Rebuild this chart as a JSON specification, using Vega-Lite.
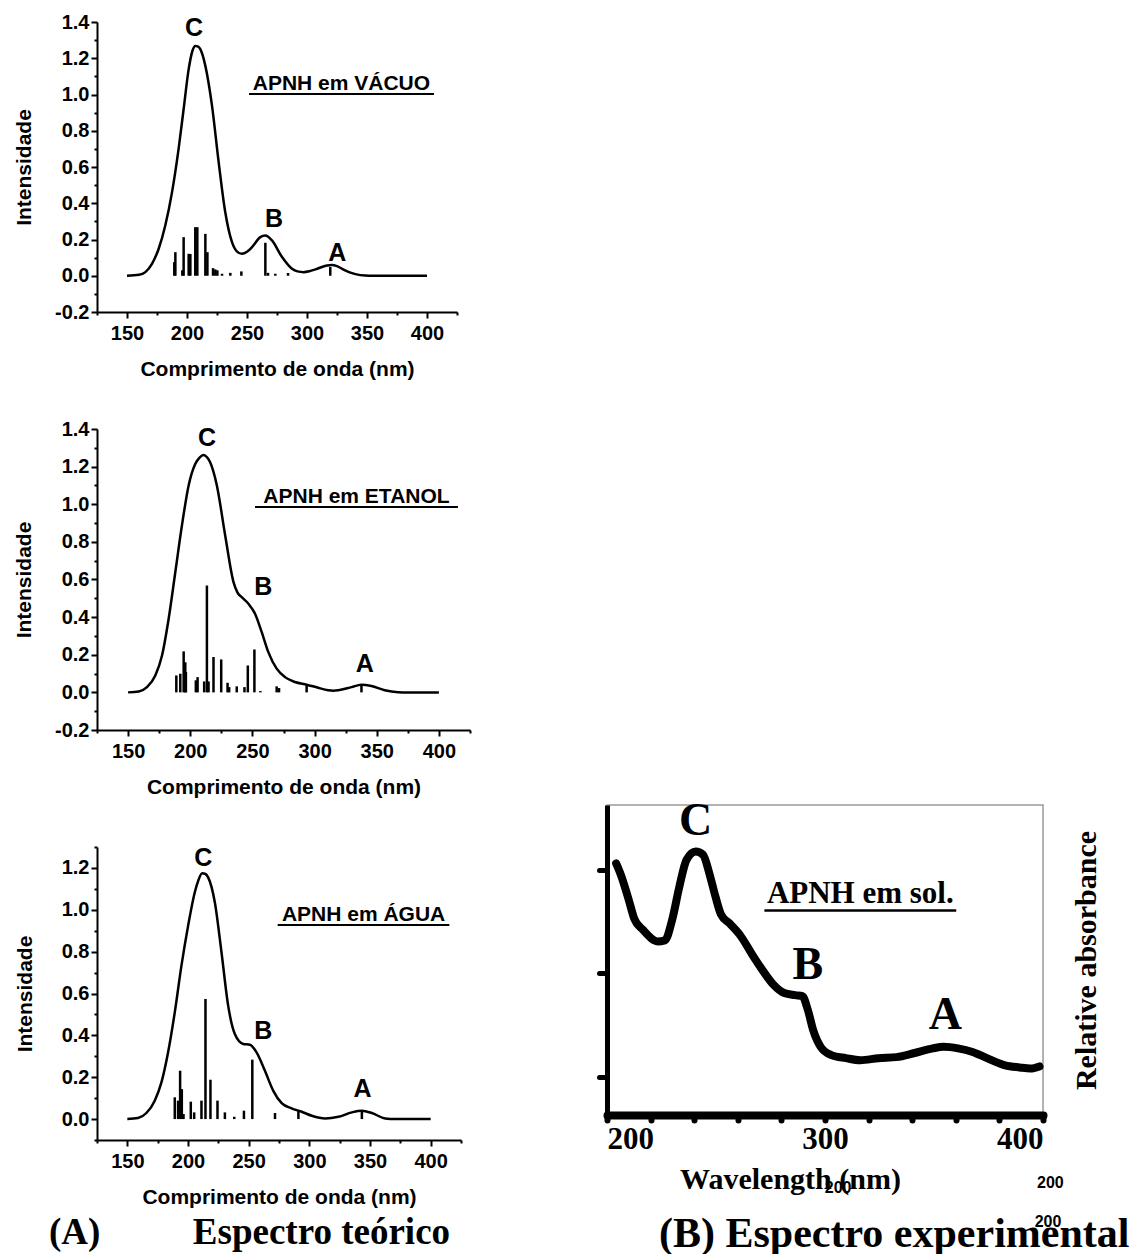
{
  "$schema": "https://vega.github.io/schema/vega-lite/v6.json",
  "background": "white",
  "padding": {"left": 13, "top": 12, "right": 0, "bottom": 0},
  "config": {
    "view": {"stroke": null},
    "font": "Liberation Sans",
    "axis": {
      "grid": false, "labelOverlap": false,
      "domainColor": "black", "domainWidth": 2,
      "tickColor": "black", "tickWidth": 2,
      "labelColor": "black", "labelFont": "Liberation Sans", "labelFontWeight": "bold", "labelFontSize": 20,
      "titleColor": "black", "titleFont": "Liberation Sans", "titleFontWeight": "bold", "titleFontSize": 21
    },
    "axisX": {"labelPadding": 5, "titlePadding": 15},
    "axisY": {"labelPadding": 2, "titlePadding": 20}
  },
  "datasets": {
    "vac_curve": [
      {"nm":150,"v":0},{"nm":160,"v":0.005},{"nm":165.3,"v":0.02},{"nm":170.8,"v":0.066},{"nm":176.4,"v":0.149},{"nm":181.9,"v":0.277},{"nm":187.5,"v":0.46},{"nm":193,"v":0.7},{"nm":197.2,"v":0.92},{"nm":201.4,"v":1.14},{"nm":204.5,"v":1.24},{"nm":206.9,"v":1.268},{"nm":209,"v":1.265},{"nm":211.1,"v":1.25},{"nm":215.3,"v":1.158},{"nm":220.8,"v":0.94},{"nm":226.4,"v":0.626},{"nm":231.9,"v":0.35},{"nm":237.5,"v":0.185},{"nm":241.5,"v":0.135},{"nm":245.8,"v":0.121},{"nm":250,"v":0.132},{"nm":254.2,"v":0.158},{"nm":261.1,"v":0.213},{"nm":265.3,"v":0.222},{"nm":270.8,"v":0.195},{"nm":279.2,"v":0.103},{"nm":287.5,"v":0.0385},{"nm":292,"v":0.024},{"nm":297.2,"v":0.02},{"nm":302,"v":0.025},{"nm":307,"v":0.035},{"nm":316.7,"v":0.057},{"nm":320.8,"v":0.06},{"nm":325,"v":0.053},{"nm":329.2,"v":0.0385},{"nm":335,"v":0.02},{"nm":340.3,"v":0.009},{"nm":348.6,"v":0.001},{"nm":355,"v":0},{"nm":400,"v":0}
    ],
    "vac_sticks": [
      {"nm":189.4,"v":0.075},{"nm":190.3,"v":0.13},{"nm":196.1,"v":0.03},{"nm":197.2,"v":0.213},{"nm":201.4,"v":0.121},{"nm":202.8,"v":0.12},{"nm":206.9,"v":0.268},{"nm":208.6,"v":0.268},{"nm":215.3,"v":0.231},{"nm":217,"v":0.13},{"nm":221.7,"v":0.042},{"nm":223.6,"v":0.035},{"nm":225.3,"v":0.03},{"nm":229.2,"v":0.011},{"nm":236.1,"v":0.016},{"nm":245.3,"v":0.024},{"nm":265.3,"v":0.182},{"nm":267.5,"v":0.016},{"nm":273.6,"v":0.011},{"nm":284.2,"v":0.015},{"nm":319.4,"v":0.048}
    ],
    "vac_peaks": [{"nm":205.8,"v":1.325,"t":"C"},{"nm":272.5,"v":0.268,"t":"B"},{"nm":325.3,"v":0.084,"t":"A"}],
    "vac_title": [{"nm":328.7,"v":1.027,"t":"APNH em VÁCUO","x1":251.7,"x2":405.8,"u":1.003}],
    "eta_curve": [
      {"nm":150,"v":0},{"nm":158.6,"v":0.005},{"nm":165.2,"v":0.028},{"nm":171.9,"v":0.09},{"nm":177.3,"v":0.196},{"nm":182.6,"v":0.39},{"nm":188,"v":0.64},{"nm":193.3,"v":0.887},{"nm":198.7,"v":1.1},{"nm":204,"v":1.214},{"nm":207.5,"v":1.248},{"nm":210.7,"v":1.262},{"nm":213.5,"v":1.25},{"nm":216,"v":1.223},{"nm":221.4,"v":1.1},{"nm":228.1,"v":0.834},{"nm":234.8,"v":0.586},{"nm":238,"v":0.53},{"nm":241.4,"v":0.506},{"nm":246.8,"v":0.471},{"nm":252.1,"v":0.418},{"nm":257.5,"v":0.32},{"nm":262.8,"v":0.214},{"nm":269.5,"v":0.126},{"nm":276.2,"v":0.081},{"nm":284.2,"v":0.055},{"nm":293.6,"v":0.041},{"nm":301.6,"v":0.027},{"nm":311,"v":0.011},{"nm":315,"v":0.009},{"nm":319,"v":0.011},{"nm":329.7,"v":0.028},{"nm":337.7,"v":0.041},{"nm":345.7,"v":0.034},{"nm":356.4,"v":0.011},{"nm":367.1,"v":0.001},{"nm":375,"v":0},{"nm":400,"v":0}
    ],
    "eta_sticks": [
      {"nm":188.8,"v":0.09},{"nm":192,"v":0.099},{"nm":194.7,"v":0.218},{"nm":196,"v":0.16},{"nm":196.5,"v":0.108},{"nm":204.5,"v":0.064},{"nm":205.9,"v":0.081},{"nm":211.2,"v":0.058},{"nm":213.4,"v":0.568},{"nm":214.7,"v":0.058},{"nm":218.7,"v":0.188},{"nm":224.9,"v":0.175},{"nm":230,"v":0.051},{"nm":231.3,"v":0.028},{"nm":237.4,"v":0.032},{"nm":243.6,"v":0.028},{"nm":246.3,"v":0.143},{"nm":251.6,"v":0.228},{"nm":256.4,"v":0.007},{"nm":269.5,"v":0.032},{"nm":271.4,"v":0.023},{"nm":293.6,"v":0.037},{"nm":337.7,"v":0.034}
    ],
    "eta_peaks": [{"nm":213.4,"v":1.312,"t":"C"},{"nm":258.8,"v":0.515,"t":"B"},{"nm":340.4,"v":0.108,"t":"A"}],
    "eta_title": [{"nm":333.7,"v":1.005,"t":"APNH em ETANOL","x1":252.1,"x2":415.3,"u":0.986}],
    "agu_curve": [
      {"nm":150,"v":0},{"nm":158.8,"v":0.005},{"nm":165.7,"v":0.029},{"nm":172.6,"v":0.088},{"nm":178.1,"v":0.175},{"nm":183.6,"v":0.319},{"nm":189.1,"v":0.51},{"nm":194.6,"v":0.733},{"nm":200.1,"v":0.924},{"nm":205.6,"v":1.084},{"nm":208.5,"v":1.14},{"nm":211.7,"v":1.174},{"nm":214,"v":1.172},{"nm":216.6,"v":1.155},{"nm":222.1,"v":1.036},{"nm":227.6,"v":0.797},{"nm":233.1,"v":0.542},{"nm":238.6,"v":0.406},{"nm":245.5,"v":0.359},{"nm":251,"v":0.355},{"nm":256.5,"v":0.319},{"nm":263.4,"v":0.231},{"nm":270.3,"v":0.135},{"nm":277.2,"v":0.076},{"nm":285.4,"v":0.051},{"nm":293.7,"v":0.035},{"nm":302,"v":0.016},{"nm":313,"v":0.003},{"nm":324,"v":0.011},{"nm":335,"v":0.032},{"nm":343.3,"v":0.04},{"nm":351.5,"v":0.029},{"nm":362.5,"v":0.003},{"nm":370.8,"v":0},{"nm":400,"v":0}
    ],
    "agu_sticks": [
      {"nm":189.1,"v":0.104},{"nm":191.8,"v":0.088},{"nm":193.5,"v":0.231},{"nm":194.9,"v":0.143},{"nm":196.3,"v":0.024},{"nm":202.3,"v":0.083},{"nm":205.1,"v":0.032},{"nm":211.1,"v":0.088},{"nm":214.4,"v":0.574},{"nm":218.5,"v":0.188},{"nm":224.3,"v":0.088},{"nm":230.4,"v":0.032},{"nm":238.1,"v":0.011},{"nm":246.1,"v":0.04},{"nm":253,"v":0.284},{"nm":271.7,"v":0.029},{"nm":291,"v":0.04},{"nm":343.3,"v":0.04}
    ],
    "agu_peaks": [{"nm":212.5,"v":1.211,"t":"C"},{"nm":262,"v":0.382,"t":"B"},{"nm":343.8,"v":0.104,"t":"A"}],
    "agu_title": [{"nm":344.7,"v":0.948,"t":"APNH em ÁGUA","x1":273.9,"x2":415.4,"u":0.927}],
    "exp_curve": [
      {"nm":204.2,"v":2.435},{"nm":206.6,"v":2.31},{"nm":210,"v":2.08},{"nm":212.5,"v":1.9},{"nm":216.6,"v":1.79},{"nm":223.2,"v":1.68},{"nm":226.6,"v":1.69},{"nm":229.9,"v":1.89},{"nm":233.2,"v":2.21},{"nm":236.5,"v":2.47},{"nm":240.7,"v":2.55},{"nm":244,"v":2.52},{"nm":247.3,"v":2.31},{"nm":249.8,"v":2.11},{"nm":252.3,"v":1.94},{"nm":256.4,"v":1.85},{"nm":261.4,"v":1.73},{"nm":266.4,"v":1.56},{"nm":271.4,"v":1.4},{"nm":276.4,"v":1.26},{"nm":281.3,"v":1.18},{"nm":286.3,"v":1.16},{"nm":289.6,"v":1.15},{"nm":292.1,"v":1.02},{"nm":294.6,"v":0.82},{"nm":298,"v":0.66},{"nm":302.9,"v":0.58},{"nm":309.6,"v":0.55},{"nm":316.2,"v":0.53},{"nm":324.5,"v":0.55},{"nm":332.8,"v":0.56},{"nm":341.1,"v":0.6},{"nm":349.4,"v":0.645},{"nm":354.4,"v":0.66},{"nm":361,"v":0.645},{"nm":367.7,"v":0.61},{"nm":374.3,"v":0.55},{"nm":382.6,"v":0.48},{"nm":389.3,"v":0.46},{"nm":394.2,"v":0.45},{"nm":398.4,"v":0.47}
    ],
    "exp_peaks": [{"nm":240.7,"v":2.71,"t":"C"},{"nm":292.1,"v":1.32,"t":"B"},{"nm":355.2,"v":0.83,"t":"A"}],
    "exp_title": [{"nm":316.2,"v":2.05,"t":"APNH em sol.","x1":272.2,"x2":360.2,"u":1.98}],
    "exp_extra": [{"nm":306,"v":-0.71,"t":"200"},{"nm":403.4,"v":-0.66,"t":"200"},{"nm":402.3,"v":-1.04,"t":"200"}]
  },
  "bounds": "full",
  "spacing": 124,
  "hconcat": [
    {
      "bounds": "flush",
      "spacing": 117,
      "title": {"text": "(A)\u00a0\u00a0\u00a0\u00a0\u00a0\u00a0\u00a0\u00a0\u00a0\u00a0Espectro teórico", "orient": "bottom", "frame": "group", "anchor": "start", "baseline": "alphabetic", "offset": 37, "dx": -48, "font": "Liberation Serif", "fontSize": 37, "fontWeight": "bold", "color": "black"},
      "vconcat": [
        {
          "width": 360, "height": 290,
          "resolve": {"axis": {"x": "independent", "y": "independent"}},
          "layer": [
            {"data": {"name": "vac_curve"}, "mark": {"type": "line", "color": "black", "strokeWidth": 2.5, "interpolate": "monotone"},
             "encoding": {
               "x": {"field": "nm", "type": "quantitative", "scale": {"domain": [125, 425], "nice": false, "zero": false},
                     "axis": {"orient": "bottom", "values": [150,200,250,300,350,400], "tickSize": 6, "title": "Comprimento de onda (nm)"}},
               "y": {"field": "v", "type": "quantitative", "scale": {"domain": [-0.2, 1.4], "nice": false, "zero": false},
                     "axis": {"orient": "left", "values": [-0.2,0,0.2,0.4,0.6,0.8,1,1.2,1.4], "labelExpr": "datum.value < 0 ? '-' + format(-datum.value, '.1f') : format(datum.value, '.1f')", "tickSize": 6, "title": "Intensidade"}}
             }},
            {"data": {"name": "vac_sticks"}, "mark": {"type": "rule", "color": "black", "strokeWidth": 2.5},
             "encoding": {"x": {"field": "nm", "type": "quantitative", "axis": {"orient": "bottom", "values": [125,175,225,275,325,375,425], "labels": false, "domain": false, "tickSize": 3, "title": null}},
                          "y": {"field": "v", "type": "quantitative", "axis": {"orient": "left", "values": [-0.1,0.1,0.3,0.5,0.7,0.9,1.1,1.3], "labels": false, "domain": false, "tickSize": 3, "title": null}},
                          "y2": {"datum": 0}}},
            {"data": {"name": "vac_peaks"}, "mark": {"type": "text", "font": "Liberation Sans", "fontWeight": "bold", "fontSize": 25, "baseline": "alphabetic", "align": "center", "color": "black"},
             "encoding": {"x": {"field": "nm", "type": "quantitative", "axis": null}, "y": {"field": "v", "type": "quantitative", "axis": null}, "text": {"field": "t"}}},
            {"data": {"name": "vac_title"}, "mark": {"type": "text", "font": "Liberation Sans", "fontWeight": "bold", "fontSize": 21, "baseline": "alphabetic", "align": "center", "color": "black"},
             "encoding": {"x": {"field": "nm", "type": "quantitative", "axis": null}, "y": {"field": "v", "type": "quantitative", "axis": null}, "text": {"field": "t"}}},
            {"data": {"name": "vac_title"}, "mark": {"type": "rule", "color": "black", "strokeWidth": 2},
             "encoding": {"x": {"field": "x1", "type": "quantitative", "axis": null}, "x2": {"field": "x2"}, "y": {"field": "u", "type": "quantitative", "axis": null}}}
          ]
        },
        {
          "width": 373, "height": 301,
          "resolve": {"axis": {"x": "independent", "y": "independent"}},
          "layer": [
            {"data": {"name": "eta_curve"}, "mark": {"type": "line", "color": "black", "strokeWidth": 2.5, "interpolate": "monotone"},
             "encoding": {
               "x": {"field": "nm", "type": "quantitative", "scale": {"domain": [125, 425], "nice": false, "zero": false},
                     "axis": {"orient": "bottom", "values": [150,200,250,300,350,400], "tickSize": 6, "title": "Comprimento de onda (nm)"}},
               "y": {"field": "v", "type": "quantitative", "scale": {"domain": [-0.2, 1.4], "nice": false, "zero": false},
                     "axis": {"orient": "left", "values": [-0.2,0,0.2,0.4,0.6,0.8,1,1.2,1.4], "labelExpr": "datum.value < 0 ? '-' + format(-datum.value, '.1f') : format(datum.value, '.1f')", "tickSize": 6, "title": "Intensidade"}}
             }},
            {"data": {"name": "eta_sticks"}, "mark": {"type": "rule", "color": "black", "strokeWidth": 2.5},
             "encoding": {"x": {"field": "nm", "type": "quantitative", "axis": {"orient": "bottom", "values": [125,175,225,275,325,375,425], "labels": false, "domain": false, "tickSize": 3, "title": null}},
                          "y": {"field": "v", "type": "quantitative", "axis": {"orient": "left", "values": [-0.1,0.1,0.3,0.5,0.7,0.9,1.1,1.3], "labels": false, "domain": false, "tickSize": 3, "title": null}},
                          "y2": {"datum": 0}}},
            {"data": {"name": "eta_peaks"}, "mark": {"type": "text", "font": "Liberation Sans", "fontWeight": "bold", "fontSize": 25, "baseline": "alphabetic", "align": "center", "color": "black"},
             "encoding": {"x": {"field": "nm", "type": "quantitative", "axis": null}, "y": {"field": "v", "type": "quantitative", "axis": null}, "text": {"field": "t"}}},
            {"data": {"name": "eta_title"}, "mark": {"type": "text", "font": "Liberation Sans", "fontWeight": "bold", "fontSize": 21, "baseline": "alphabetic", "align": "center", "color": "black"},
             "encoding": {"x": {"field": "nm", "type": "quantitative", "axis": null}, "y": {"field": "v", "type": "quantitative", "axis": null}, "text": {"field": "t"}}},
            {"data": {"name": "eta_title"}, "mark": {"type": "rule", "color": "black", "strokeWidth": 2},
             "encoding": {"x": {"field": "x1", "type": "quantitative", "axis": null}, "x2": {"field": "x2"}, "y": {"field": "u", "type": "quantitative", "axis": null}}}
          ]
        },
        {
          "width": 364, "height": 293,
          "resolve": {"axis": {"x": "independent", "y": "independent"}},
          "layer": [
            {"data": {"name": "agu_curve"}, "mark": {"type": "line", "color": "black", "strokeWidth": 2.5, "interpolate": "monotone"},
             "encoding": {
               "x": {"field": "nm", "type": "quantitative", "scale": {"domain": [125, 425], "nice": false, "zero": false},
                     "axis": {"orient": "bottom", "values": [150,200,250,300,350,400], "tickSize": 6, "title": "Comprimento de onda (nm)"}},
               "y": {"field": "v", "type": "quantitative", "scale": {"domain": [-0.1, 1.3], "nice": false, "zero": false},
                     "axis": {"orient": "left", "values": [0,0.2,0.4,0.6,0.8,1,1.2], "labelExpr": "format(datum.value, '.1f')", "tickSize": 6, "title": "Intensidade", "titlePadding": 26}}
             }},
            {"data": {"name": "agu_sticks"}, "mark": {"type": "rule", "color": "black", "strokeWidth": 2.5},
             "encoding": {"x": {"field": "nm", "type": "quantitative", "axis": {"orient": "bottom", "values": [125,175,225,275,325,375,425], "labels": false, "domain": false, "tickSize": 3, "title": null}},
                          "y": {"field": "v", "type": "quantitative", "axis": {"orient": "left", "values": [-0.1,0.1,0.3,0.5,0.7,0.9,1.1,1.3], "labels": false, "domain": false, "tickSize": 3, "title": null}},
                          "y2": {"datum": 0}}},
            {"data": {"name": "agu_peaks"}, "mark": {"type": "text", "font": "Liberation Sans", "fontWeight": "bold", "fontSize": 25, "baseline": "alphabetic", "align": "center", "color": "black"},
             "encoding": {"x": {"field": "nm", "type": "quantitative", "axis": null}, "y": {"field": "v", "type": "quantitative", "axis": null}, "text": {"field": "t"}}},
            {"data": {"name": "agu_title"}, "mark": {"type": "text", "font": "Liberation Sans", "fontWeight": "bold", "fontSize": 21, "baseline": "alphabetic", "align": "center", "color": "black"},
             "encoding": {"x": {"field": "nm", "type": "quantitative", "axis": null}, "y": {"field": "v", "type": "quantitative", "axis": null}, "text": {"field": "t"}}},
            {"data": {"name": "agu_title"}, "mark": {"type": "rule", "color": "black", "strokeWidth": 2},
             "encoding": {"x": {"field": "x1", "type": "quantitative", "axis": null}, "x2": {"field": "x2"}, "y": {"field": "u", "type": "quantitative", "axis": null}}}
          ]
        }
      ]
    },
    {
      "bounds": "flush",
      "spacing": 0,
      "title": {"text": "(B) Espectro experimental", "orient": "bottom", "frame": "group", "anchor": "start", "baseline": "alphabetic", "offset": 16, "dx": 52, "font": "Liberation Serif", "fontSize": 42, "fontWeight": "bold", "color": "black"},
      "vconcat": [
        {"width": 436, "height": 783, "data": {"values": []}, "mark": {"type": "point", "opacity": 0}},
        {
          "width": 436, "height": 310,
          "view": {"stroke": "#9a9a9a", "strokeWidth": 1.5},
          "resolve": {"axis": {"y": "independent"}},
          "layer": [
            {"data": {"name": "exp_curve"}, "mark": {"type": "line", "color": "black", "strokeWidth": 8, "interpolate": "monotone", "strokeCap": "round", "strokeJoin": "round"},
             "encoding": {
               "x": {"field": "nm", "type": "quantitative", "scale": {"domain": [200, 400], "nice": false, "zero": false},
                     "axis": {"values": [200,220,240,260,280,300,320,340,360,380,400], "labelExpr": "datum.value % 100 == 0 ? datum.label : ''", "tickSize": 5, "tickWidth": 6, "tickCap": "round", "domainWidth": 8, "domainCap": "round", "labelFont": "Liberation Serif", "labelFontSize": 31, "labelFontWeight": "bold", "labelPadding": 4, "title": "Wavelength (nm)", "titleFont": "Liberation Serif", "titleFontSize": 30, "titleFontWeight": "bold", "titleX": 183, "titlePadding": 10}},
               "y": {"field": "v", "type": "quantitative", "scale": {"domain": [0, 3], "nice": false, "zero": false},
                     "axis": {"orient": "left", "values": [0.37, 1.37, 2.37], "labels": false, "title": null, "tickSize": 8, "tickWidth": 5, "tickCap": "round", "domainWidth": 5}}
             }},
            {"data": {"name": "exp_peaks"}, "mark": {"type": "text", "font": "Liberation Serif", "fontWeight": "bold", "fontSize": 46, "baseline": "alphabetic", "align": "center", "color": "black"},
             "encoding": {"x": {"field": "nm", "type": "quantitative"},
                          "y": {"field": "v", "type": "quantitative", "axis": {"orient": "right", "title": "Relative absorbance", "titleAngle": 270, "titleBaseline": "top", "labels": false, "ticks": false, "domain": false, "titleFont": "Liberation Serif", "titleFontSize": 30, "titleFontWeight": "bold", "titlePadding": 28}},
                          "text": {"field": "t"}}},
            {"data": {"name": "exp_title"}, "mark": {"type": "text", "font": "Liberation Serif", "fontWeight": "bold", "fontSize": 31, "baseline": "alphabetic", "align": "center", "color": "black"},
             "encoding": {"x": {"field": "nm", "type": "quantitative"}, "y": {"field": "v", "type": "quantitative", "axis": null}, "text": {"field": "t"}}},
            {"data": {"name": "exp_title"}, "mark": {"type": "rule", "color": "black", "strokeWidth": 2.5},
             "encoding": {"x": {"field": "x1", "type": "quantitative"}, "x2": {"field": "x2"}, "y": {"field": "u", "type": "quantitative", "axis": null}}},
            {"data": {"name": "exp_extra"}, "mark": {"type": "text", "font": "Liberation Sans", "fontWeight": "bold", "fontSize": 16, "baseline": "middle", "align": "center", "color": "black"},
             "encoding": {"x": {"field": "nm", "type": "quantitative"}, "y": {"field": "v", "type": "quantitative", "axis": null}, "text": {"field": "t"}}}
          ]
        }
      ]
    }
  ]
}
